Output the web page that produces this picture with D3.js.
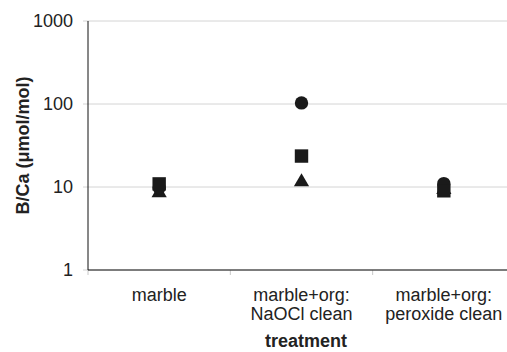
<!DOCTYPE html>
<html>
<head>
<meta charset="utf-8">
<script src="https://cdn.jsdelivr.net/npm/d3@7.9.0/dist/d3.min.js"></script>
<style>
  html, body { margin: 0; padding: 0; background: #fff; }
  svg { display: block; font-family: Arial, "Liberation Sans", sans-serif; }
</style>
</head>
<body>
<svg id="chart" width="507" height="352"></svg>
<script>
const categories = ['marble', 'marble+org:|NaOCl clean', 'marble+org:|peroxide clean'];
const circleVals = [9.8, 103, 11];
const squareVals = [10.9, 23.6, 9.0];
const triangleVals = [8.5, 11.5, 9.3];
const yTicks = [1, 10, 100, 1000];

const svg = d3.select('#chart');
const plotLeft = 88, plotRight = 515, plotTop = 21, plotBottom = 270;

let x = d3.scaleBand().domain(categories).range([plotLeft, plotRight]).padding(0);
let y = d3.scaleLog().domain([1, 1000]).range([plotBottom, plotTop]);

// gridlines
svg.append('g')
  .selectAll('line')
  .data(yTicks)
  .join('line')
  .attr('x1', plotLeft - 5)
  .attr('x2', 507)
  .attr('y1', d => y(d))
  .attr('y2', d => y(d))
  .attr('stroke', '#d4d4d4')
  .attr('stroke-width', 1);

// y tick labels
svg.append('g')
  .selectAll('text')
  .data(yTicks)
  .join('text')
  .attr('x', 73)
  .attr('y', d => y(d))
  .attr('dy', '0.35em')
  .attr('text-anchor', 'end')
  .attr('font-size', 18)
  .attr('fill', '#222')
  .text(d => d);

// x ticks at band edges
let edges = categories.map(c => x(c));
svg.append('g')
  .selectAll('line')
  .data(edges)
  .join('line')
  .attr('x1', d => d)
  .attr('x2', d => d)
  .attr('y1', plotBottom)
  .attr('y2', plotBottom + 5)
  .attr('stroke', '#c8c8c8');

// axis lines
svg.append('line')
  .attr('x1', plotLeft).attr('x2', plotLeft)
  .attr('y1', plotTop).attr('y2', plotBottom)
  .attr('stroke', '#111');
svg.append('line')
  .attr('x1', plotLeft).attr('x2', 507)
  .attr('y1', plotBottom).attr('y2', plotBottom)
  .attr('stroke', '#111');

// category labels, one text per line
categories.forEach(c => {
  let cx = x(c) + x.bandwidth() / 2;
  c.split('|').forEach((l, i) => {
    svg.append('text')
      .attr('x', cx)
      .attr('y', 301 + i * 19)
      .attr('text-anchor', 'middle')
      .attr('font-size', 18)
      .attr('fill', '#222')
      .text(l);
  });
});

// axis titles
svg.append('text')
  .attr('x', 306)
  .attr('y', 347)
  .attr('text-anchor', 'middle')
  .attr('font-size', 18)
  .attr('font-weight', 'bold')
  .attr('fill', '#222')
  .text('treatment');

svg.append('text')
  .attr('transform', `translate(29, ${(plotTop + plotBottom) / 2}) rotate(-90)`)
  .attr('text-anchor', 'middle')
  .attr('font-size', 18)
  .attr('font-weight', 'bold')
  .attr('fill', '#222')
  .text('B/Ca (\u03bcmol/mol)');

// markers
let series = [
  { vals: triangleVals, type: d3.symbolTriangle, size: 100 },
  { vals: circleVals, type: d3.symbolCircle, size: 140 },
  { vals: squareVals, type: d3.symbolSquare, size: 180 }
];
series.forEach(s => {
  let sym = d3.symbol().type(s.type).size(s.size);
  svg.append('g')
    .selectAll('path')
    .data(s.vals)
    .join('path')
    .attr('d', sym)
    .attr('transform', (d, i) => `translate(${x(categories[i]) + x.bandwidth() / 2}, ${y(d)})`)
    .attr('fill', '#1a1a1a');
});
</script>
</body>
</html>
